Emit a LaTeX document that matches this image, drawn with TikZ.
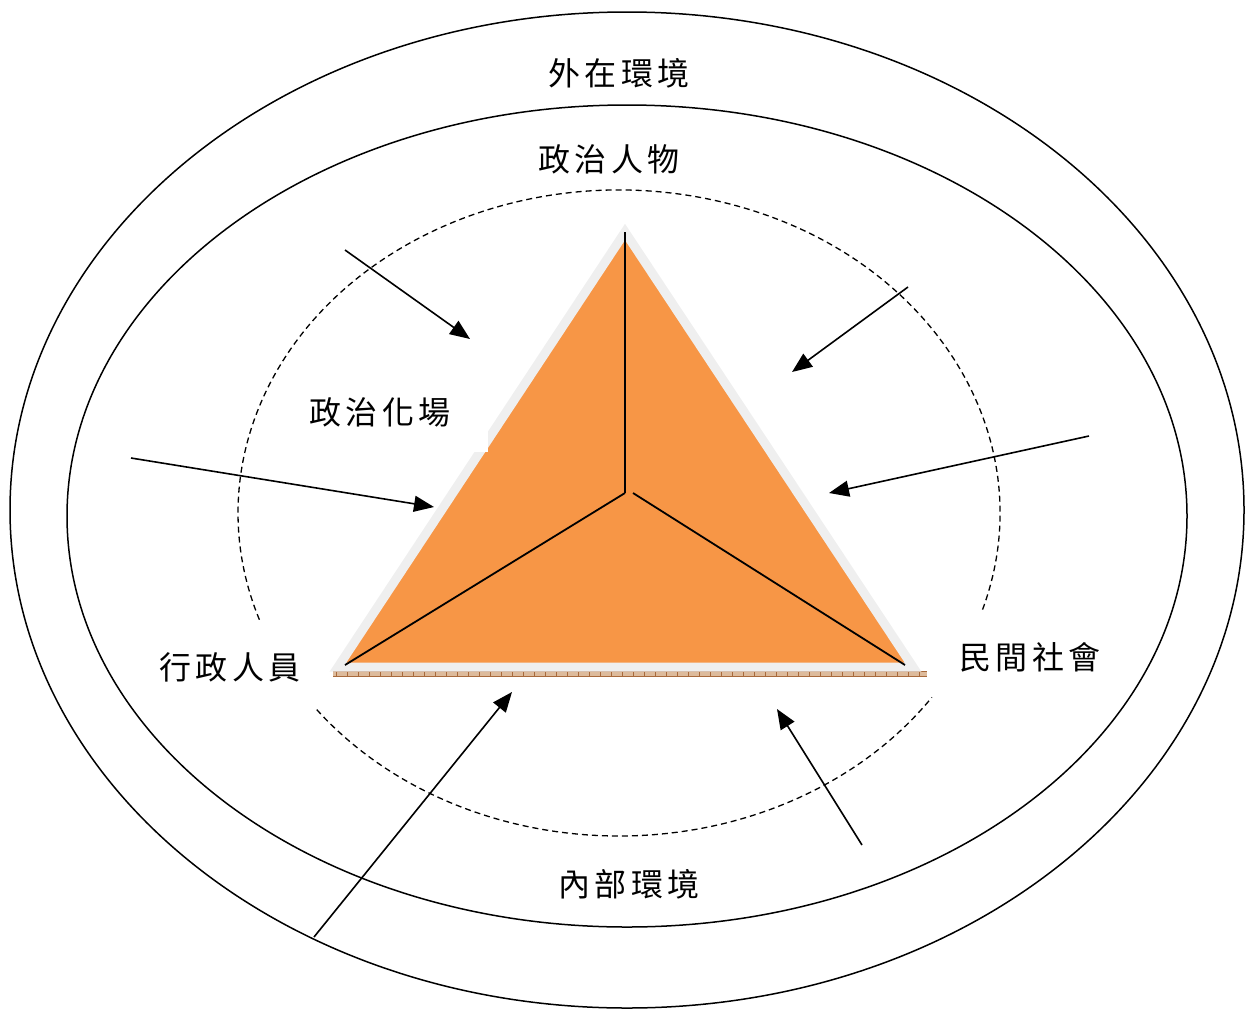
\documentclass[tikz,border=0pt]{standalone}
\usepackage{fontspec}
\newfontfamily\cjk[LetterSpace=14]{Noto Sans CJK TC}
\usetikzlibrary{arrows.meta}
\definecolor{tri}{HTML}{F79646}
\definecolor{rim}{HTML}{EFEFEF}
\definecolor{tan}{HTML}{DDBB9C}
\definecolor{brn}{HTML}{A86A3C}
\tikzset{
  lbl/.style={font=\cjk\fontsize{32}{36}\selectfont, inner sep=0pt},
  arr/.style={-{Triangle[length=20pt,width=16pt]}, line width=1.6pt},
  edge/.style={line width=1.8pt},
  ring/.style={line width=1.5pt},
  dashring/.style={line width=1.3pt, dash pattern=on 6pt off 4pt}
}
\begin{document}
\begin{tikzpicture}[x=1pt,y=-1pt]
\useasboundingbox (0,0) rectangle (1246,1010);
% ellipses
\draw[ring] (627,510) ellipse [x radius=617, y radius=498];
\draw[ring] (627,516) ellipse [x radius=560, y radius=411];
\begin{scope}[y=1pt]
\draw[dashring]
  ([shift={(-17.4:381 and 323)}]619,-513) arc [start angle=-17.4, end angle=199.3, x radius=381, y radius=323];
\draw[dashring]
  ([shift={(217.5:381 and 323)}]619,-513) arc [start angle=217.5, end angle=325.2, x radius=381, y radius=323];
\end{scope}
% base bar
\fill[tan] (333,671) rectangle (927,677);
\foreach \i in {0,...,53} {\draw[brn, line width=0.8pt] (336+11*\i,671) -- (336+11*\i,677);}
\draw[brn, line width=1pt] (333,671) -- (927,671);
\draw[brn, line width=0.8pt] (333,676.5) -- (927,676.5);
% triangle
\coordinate (A) at (625,232);
\coordinate (L) at (338,667);
\coordinate (R) at (913,667);
\coordinate (C) at (625,493);
\coordinate (C2) at (633,493);
\coordinate (LE) at (345,665);
\coordinate (RE) at (905,665);
\draw[rim, line width=9pt, line join=miter, fill=tri] (A) -- (L) -- (R) -- cycle;
\draw[edge] (A) -- (C);
\draw[edge] (C) -- (LE);
\draw[edge] (C2) -- (RE);
% white box behind label
\fill[white] (292,384) rectangle (488,452);
% labels
\node[lbl] (ext) at (619,73) {外在環境};
\node[lbl] (pol) at (609,159) {政治人物};
\node[lbl] (arena) at (380,412) {政治化場};
\node[lbl] (adm) at (230,667) {行政人員};
\node[lbl] (civ) at (1030,657) {民間社會};
\node[lbl] (int) at (629,884) {內部環境};
% arrows
\coordinate (a1s) at (345,250); \coordinate (a1e) at (470,339);
\coordinate (a2s) at (908,287); \coordinate (a2e) at (792,372);
\coordinate (a3s) at (131,458); \coordinate (a3e) at (434,507);
\coordinate (a4s) at (1089,436); \coordinate (a4e) at (829,493);
\coordinate (a5s) at (314,937); \coordinate (a5e) at (512,692);
\coordinate (a6s) at (862,845); \coordinate (a6e) at (777,709);
\draw[arr] (a1s) -- (a1e);
\draw[arr] (a2s) -- (a2e);
\draw[arr] (a3s) -- (a3e);
\draw[arr] (a4s) -- (a4e);
\draw[arr] (a5s) -- (a5e);
\draw[arr] (a6s) -- (a6e);
\end{tikzpicture}
\end{document}
